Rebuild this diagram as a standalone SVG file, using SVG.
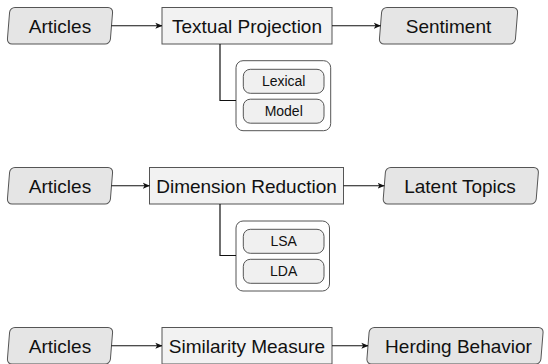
<svg xmlns="http://www.w3.org/2000/svg" width="548" height="364" viewBox="0 0 548 364">
  <defs>
    <marker id="arrow" viewBox="0 0 10 10" refX="9.5" refY="5" markerWidth="7" markerHeight="7" markerUnits="userSpaceOnUse" orient="auto">
      <path d="M0,0.8 L10,5 L0,9.2 L2.5,5 Z" fill="#111"/>
    </marker>
  </defs>
  <style>
    .io { fill: #e5e5e5; stroke: #555; stroke-width: 1; }
    .proc { fill: #f2f2f2; stroke: #555; stroke-width: 1; }
    .group { fill: #ffffff; stroke: #555; stroke-width: 1; }
    .pill { fill: #f0f0f0; stroke: #555; stroke-width: 1; }
    .lbl { font-family: "Liberation Sans", Arial, sans-serif; font-size: 19px; fill: #111; text-anchor: middle; }
    .sm { font-family: "Liberation Sans", Arial, sans-serif; font-size: 14px; fill: #111; text-anchor: middle; }
    .edge { fill: none; stroke: #111; stroke-width: 1.2; }
  </style>

  <!-- Row 1: textual projection -->
  <g id="articles1">
    <rect class="io" x="-51.5" y="-18.25" width="103" height="36.5" rx="5" transform="translate(60,25.75) skewX(-4.6)"/>
    <text class="lbl" x="60" y="32.5">Articles</text>
  </g>
  <g id="textual-projection">
    <rect class="proc" x="162" y="7.5" width="170" height="36.5"/>
    <text class="lbl" x="247" y="32.5">Textual Projection</text>
  </g>
  <g id="sentiment">
    <rect class="io" x="-68" y="-18.25" width="136" height="36.5" rx="5" transform="translate(448.5,25.75) skewX(-4.6)"/>
    <text class="lbl" x="448.5" y="32.5">Sentiment</text>
  </g>
  <g id="projection-methods">
    <rect class="group" x="236" y="60.7" width="94.7" height="70" rx="7"/>
    <g id="lexical">
      <rect class="pill" x="243.3" y="69.3" width="80.7" height="24" rx="7"/>
      <text class="sm" x="283.7" y="86.3">Lexical</text>
    </g>
    <g id="model">
      <rect class="pill" x="243.3" y="99.2" width="80.7" height="24" rx="7"/>
      <text class="sm" x="283.7" y="116.2">Model</text>
    </g>
  </g>

  <!-- Row 2: dimension reduction -->
  <g id="articles2">
    <rect class="io" x="-51.5" y="-18.25" width="103" height="36.5" rx="5" transform="translate(60,185.75) skewX(-4.6)"/>
    <text class="lbl" x="60" y="192.5">Articles</text>
  </g>
  <g id="dimension-reduction">
    <rect class="proc" x="149.5" y="167.5" width="194" height="36.5"/>
    <text class="lbl" x="246.5" y="192.5">Dimension Reduction</text>
  </g>
  <g id="latent-topics">
    <rect class="io" x="-76.5" y="-18.25" width="153" height="36.5" rx="5" transform="translate(460.8,185.75) skewX(-4.6)"/>
    <text class="lbl" x="460" y="192.5">Latent Topics</text>
  </g>
  <g id="reduction-methods">
    <rect class="group" x="236" y="221" width="93.5" height="70" rx="7"/>
    <g id="lsa">
      <rect class="pill" x="243.3" y="229.3" width="80.7" height="24" rx="7"/>
      <text class="sm" x="283.7" y="246.3">LSA</text>
    </g>
    <g id="lda">
      <rect class="pill" x="243.3" y="259.3" width="80.7" height="24" rx="7"/>
      <text class="sm" x="283.7" y="276.3">LDA</text>
    </g>
  </g>

  <!-- Row 3: similarity measure -->
  <g id="articles3">
    <rect class="io" x="-51.5" y="-18.25" width="103" height="36.5" rx="5" transform="translate(60,345.75) skewX(-4.6)"/>
    <text class="lbl" x="60" y="352.5">Articles</text>
  </g>
  <g id="similarity-measure">
    <rect class="proc" x="162" y="327.5" width="170" height="36.5"/>
    <text class="lbl" x="247" y="352.5">Similarity Measure</text>
  </g>
  <g id="herding-behavior">
    <rect class="io" x="-87" y="-18.25" width="174" height="36.5" rx="5" transform="translate(455,345.75) skewX(-4.6)"/>
    <text class="lbl" x="458.5" y="352.5">Herding Behavior</text>
  </g>

  <!-- Connectors -->
  <g id="connectors">
    <line class="edge" x1="111.5" y1="25.75" x2="162" y2="25.75" marker-end="url(#arrow)"/>
    <line class="edge" x1="332" y1="25.75" x2="380.5" y2="25.75" marker-end="url(#arrow)"/>
    <polyline class="edge" points="220,44 220,100.5 236,100.5"/>

    <line class="edge" x1="111.5" y1="185.75" x2="149.5" y2="185.75" marker-end="url(#arrow)"/>
    <line class="edge" x1="343.5" y1="185.75" x2="384.3" y2="185.75" marker-end="url(#arrow)"/>
    <polyline class="edge" points="220,204 220,255.5 236,255.5"/>

    <line class="edge" x1="111.5" y1="345.75" x2="162" y2="345.75" marker-end="url(#arrow)"/>
    <line class="edge" x1="332" y1="345.75" x2="368" y2="345.75" marker-end="url(#arrow)"/>
  </g>
</svg>
